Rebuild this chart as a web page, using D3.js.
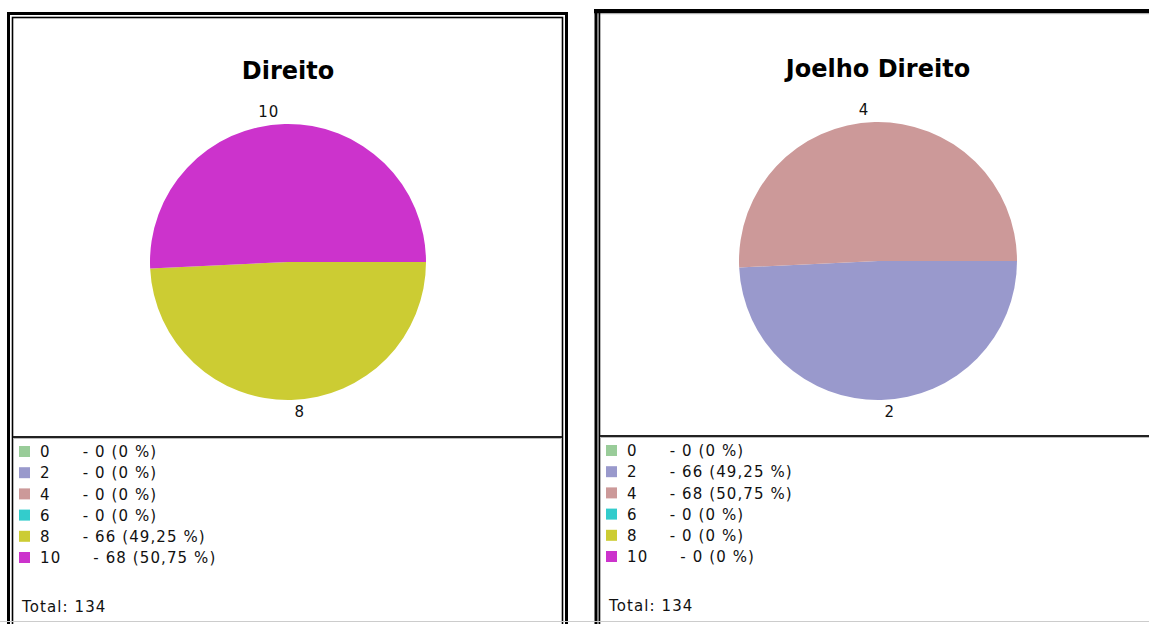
<!DOCTYPE html>
<html>
<head>
<meta charset="utf-8">
<script src="https://cdn.jsdelivr.net/npm/d3@7"></script>
<style>
  html, body { margin: 0; padding: 0; background: #fff; }
  svg { display: block; }
  text { font-family: "DejaVu Sans", Verdana, sans-serif; fill: #000; }
  .small { font-size: 15px; letter-spacing: 1.1px; fill: #111; }
</style>
</head>
<body>
<svg id="chart" width="1149" height="624"></svg>
<script>
// Score categories and their colours
const categories = ["0", "2", "4", "6", "8", "10"];
const colors = ["#99cc99", "#9999cc", "#cc9999", "#33cccc", "#cccc33", "#cc33cc"];

// Counts per category for each knee chart
const direitoValues = [0, 0, 0, 0, 66, 68];
const joelhoDireitoValues = [0, 66, 68, 0, 0, 0];

const titles = ["Direito", "Joelho Direito"];

const svg = d3.select("#chart");

const color = d3.scaleOrdinal().domain(categories).range(colors);

const panels = [
  { title: titles[0], values: direitoValues, cx: 288, cy: 262, r: 138, titleY: 79, x0: 7, x1: 568, top: 12, legendLine: 436, textX: 22 },
  { title: titles[1], values: joelhoDireitoValues, cx: 878, cy: 261, r: 139, titleY: 77, x0: 594, x1: 1160, top: 9, legendLine: 435, textX: 609 }
];

// Frames
function drawFrame(p, i) {
  const g = svg.append("g");
  if (i === 0) {
    // double border: thick outer, thin inner
    g.append("rect").attr("x", p.x0 + 1.5).attr("y", p.top + 1.5)
      .attr("width", p.x1 - p.x0 - 3).attr("height", 700)
      .attr("fill", "none").attr("stroke", "#000").attr("stroke-width", 3);
    g.append("rect").attr("x", p.x0 + 5.5).attr("y", p.top + 5.5)
      .attr("width", p.x1 - p.x0 - 11).attr("height", 700)
      .attr("fill", "none").attr("stroke", "#000").attr("stroke-width", 1.6);
  } else {
    g.append("rect").attr("x", p.x0).attr("y", p.top)
      .attr("width", 600).attr("height", 4.5).attr("fill", "#000");
    g.append("rect").attr("x", p.x0).attr("y", p.top + 4.5)
      .attr("width", 600).attr("height", 1).attr("fill", "#ddd");
    g.append("rect").attr("x", p.x0 + 0.5).attr("y", p.top)
      .attr("width", 3).attr("height", 700).attr("fill", "#000");
    g.append("rect").attr("x", p.x0 + 4.5).attr("y", p.top)
      .attr("width", 1.8).attr("height", 700).attr("fill", "#000");
  }
  // separator between pie and legend
  const lx0 = p.x0 + 6;
  const lx1 = i === 0 ? p.x1 - 6 : 1149;
  g.append("rect").attr("x", lx0).attr("y", p.legendLine)
    .attr("width", lx1 - lx0).attr("height", 2).attr("fill", "#222");
  g.append("rect").attr("x", lx0).attr("y", p.legendLine + 2)
    .attr("width", lx1 - lx0).attr("height", 1).attr("fill", "#bbb");
}

const pie = d3.pie().sort(null).value(d => d.value)
  .startAngle(Math.PI / 2).endAngle(Math.PI / 2 + 2 * Math.PI);

panels.forEach((p, i) => {
  drawFrame(p, i);
  const g = svg.append("g");

  g.append("text").attr("x", p.cx).attr("y", p.titleY)
    .attr("text-anchor", "middle").attr("font-size", 24).attr("font-weight", "bold")
    .text(p.title);

  const data = categories.map((c, k) => ({ key: c, value: p.values[k] }));
  const total = d3.sum(p.values);
  const arcs = pie(data).filter(a => a.data.value > 0);
  const arc = d3.arc().innerRadius(0).outerRadius(p.r);

  const pg = g.append("g").attr("transform", `translate(${p.cx},${p.cy})`);
  pg.selectAll("path").data(arcs).join("path")
    .attr("d", arc).attr("fill", d => color(d.data.key));

  // slice labels just outside the rim
  pg.selectAll("text").data(arcs).join("text")
    .attr("class", "small")
    .each(function (d) {
      const a = (d.startAngle + d.endAngle) / 2;
      const x = Math.sin(a) * (p.r + 12);
      const y = -Math.cos(a) * (p.r + 12);
      const left = x < 0;
      d3.select(this)
        .attr("x", left ? x - 5 : x + 3)
        .attr("y", y)
        .attr("dy", "0.35em")
        .attr("text-anchor", left ? "end" : "start");
    })
    .text(d => d.data.key);

  // legend
  const fmt = v => (Math.round(v * 100) / 100).toString().replace(".", ",");
  const lg = g.append("g");
  const rowY = k => p.legendLine + 16 + k * 21.2;
  categories.forEach((c, k) => {
    const y = rowY(k);
    lg.append("rect").attr("x", p.textX - 3).attr("y", y - 6)
      .attr("width", 11).attr("height", 11).attr("fill", color(c));
    const name = lg.append("text").attr("class", "small")
      .attr("x", p.textX + 18).attr("y", y).attr("dy", "0.35em").text(c);
    const w = name.node().getComputedTextLength();
    const v = p.values[k];
    lg.append("text").attr("class", "small")
      .attr("x", p.textX + 18 + w + 32).attr("y", y).attr("dy", "0.35em")
      .text(`- ${v} (${fmt(v / total * 100)} %)`);
  });
  lg.append("text").attr("class", "small")
    .attr("x", p.textX).attr("y", rowY(0) + 21.2 * 7.3).attr("dy", "0.35em")
    .text(`Total: ${total}`);
});

// faint bottom rule
svg.append("rect").attr("x", 0).attr("y", 621).attr("width", 1149).attr("height", 1).attr("fill", "#ccc");
</script>
</body>
</html>
